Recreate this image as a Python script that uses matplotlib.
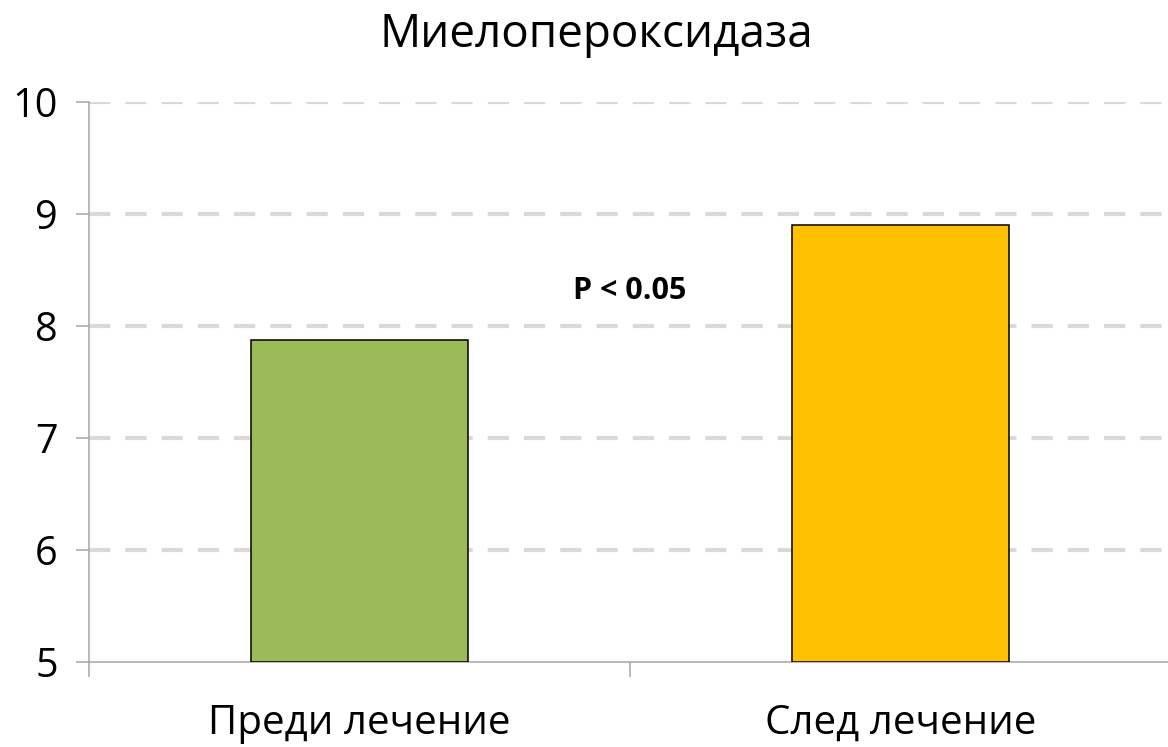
import matplotlib.pyplot as plt

# Myeloperoxidase before / after treatment
categories = ["Преди лечение", "След лечение"]
values = [7.87, 8.90]
colors = ["#9bbb59", "#ffc000"]
title = "Миелопероксидаза"
note = "P < 0.05"

plt.rcParams["font.family"] = ["Open Sans", "DejaVu Sans"]

fig = plt.figure(figsize=(11.68, 7.47), dpi=100)
W, H = 1168, 747
left, right = 89, 1171
top, bottom = 102, 661.7
ax = fig.add_axes([left / W, 1 - bottom / H, (right - left) / W, (bottom - top) / H])

x = range(len(categories))
ax.bar(x, [v - 5 for v in values], bottom=5, width=0.4, color=colors,
       edgecolor="black", linewidth=1.1, zorder=3)

ax.set_xlim(-0.5, 1.5)
ax.set_ylim(5, 10)
ax.set_yticks(range(5, 11))
ax.set_xticks([-0.5, 0.5, 1.5], minor=False)
ax.set_xticklabels([])
ax.set_xticks(list(x), minor=True)
ax.set_xticklabels(categories, minor=True)
ax.tick_params(axis="x", which="minor", length=0, pad=30, labelsize=29)
ax.tick_params(axis="x", which="major", length=11, width=1.1, color="#a6a6a6")
ax.tick_params(axis="y", length=9.5, width=1.1, color="#a6a6a6", labelsize=28.5, pad=13)

for y in range(6, 11):
    ax.axhline(y, color="#d9d9d9", lw=3, linestyle=(0, (5.1, 3.6)), zorder=1)

for side in ["top", "right"]:
    ax.spines[side].set_visible(False)
for side in ["left", "bottom"]:
    ax.spines[side].set_color("#a6a6a6")
    ax.spines[side].set_linewidth(1.1)

ax.text(0.5, 8.31, note, ha="center", va="center", fontsize=22, fontweight="bold")
fig.text(596 / W, 1 - 35 / H, title, ha="center", va="center", fontsize=33)

fig.savefig("out.png", dpi=100)
